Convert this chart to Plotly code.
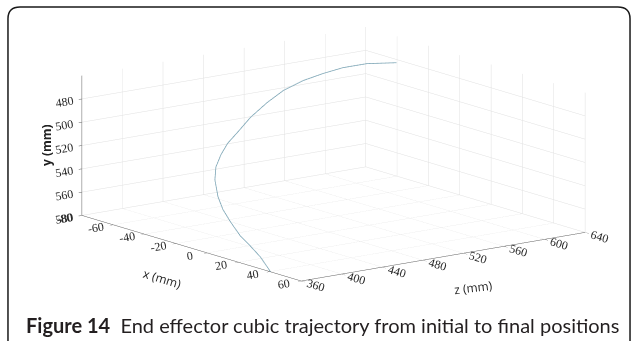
import plotly.graph_objects as go

# Trajectory samples (mm)
x_mm = [40.4, 25.5, 10.6, -4.3, -19.1, -32.7, -44.4, -54.9, -62.8, -68.2,
        -72.3, -74.5, -74.8, -72.6, -71.0, -66.8, -62.7, -58.6, -52.0, -50.0]
y_mm = [580.0, 575.4, 574.0, 573.4, 569.4, 565.7, 561.4, 553.1, 547.2, 541.0,
        534.5, 527.9, 517.2, 505.5, 496.7, 488.4, 482.7, 478.0, 473.9, 476.2]
z_mm = [360.0, 373.2, 386.4, 399.6, 412.8, 426.0, 439.2, 452.4, 465.6, 478.8,
        492.0, 505.2, 518.4, 531.6, 544.8, 558.0, 571.2, 584.4, 597.7, 624.0]

x_ticks = [-80, -60, -40, -20, 0, 20, 40, 60]
z_ticks = [360, 400, 440, 480, 520, 560, 600, 640]
y_ticks = [480, 500, 520, 540, 560, 580]

x_range = [-80, 60]
z_range = [360, 640]
y_range = [460, 580]  # drawn downward: 580 at the bottom

x_title = "x (mm)"
y_title = "y (mm)"
z_title = "z (mm)"

caption_bold = "Figure 14"
caption_text = "End effector cubic trajectory from initial to final positions"

# y grows downward in the reference, so the vertical scene axis shows -y
y_plot = [-v for v in y_mm]

fig = go.Figure()
fig.add_trace(go.Scatter3d(
    x=x_mm, y=z_mm, z=y_plot,
    mode="lines",
    line=dict(color="#7ea6b6", width=1.6),
    hoverinfo="skip",
    showlegend=False,
))

tick_font = dict(family="Liberation Serif", size=12, color="#2a2a2a")
grid_col = "#e0e0e0"
line_col = "#5e5e5e"

def axis(rng, ticks, labels, ticklen):
    return dict(
        title=dict(text=""),
        range=rng,
        tickvals=ticks,
        ticktext=labels,
        tickfont=tick_font,
        showgrid=True, gridcolor=grid_col, gridwidth=1,
        showline=True, linecolor=line_col, linewidth=1,
        ticks="outside", ticklen=ticklen, tickcolor=line_col,
        zeroline=False, showbackground=False, showspikes=False,
        autorange=False,
    )

zoom = 2.36
ex, ey, ez = 0.7767, -0.5879, 0.2262
d = 2.0

title_font = dict(family="Open Sans", size=12, color="#222222")

fig.update_layout(
    width=633, height=341,
    margin=dict(l=0, r=0, t=0, b=0),
    paper_bgcolor="white",
    scene=dict(
        domain=dict(x=[0.054, 1.0], y=[0.096, 1.0]),
        xaxis=axis(x_range, x_ticks, [str(t) for t in x_ticks], 6),
        yaxis=axis(z_range, z_ticks, [str(t) for t in z_ticks], 4),
        zaxis=axis([-y_range[1], -y_range[0]],
                   [-t for t in y_ticks], [str(t) for t in y_ticks], 3),
        aspectmode="manual",
        aspectratio=dict(x=1 * zoom, y=0.9795 * zoom, z=0.395 * zoom),
        camera=dict(
            eye=dict(x=ex * d, y=ey * d, z=ez * d),
            up=dict(x=0, y=0, z=1),
            center=dict(x=0, y=0, z=0),
            projection=dict(type="orthographic"),
        ),
    ),
    annotations=[
        dict(x=162 / 633, y=1 - 278 / 341, xref="paper", yref="paper",
             text=x_title, textangle=17, showarrow=False,
             xanchor="center", yanchor="middle", font=title_font),
        dict(x=473 / 633, y=1 - 287 / 341, xref="paper", yref="paper",
             text=z_title, textangle=-7, showarrow=False,
             xanchor="center", yanchor="middle", font=title_font),
        dict(x=46 / 633, y=1 - 145 / 341, xref="paper", yref="paper",
             text="<b>" + y_title + "</b>", textangle=-90, showarrow=False,
             xanchor="center", yanchor="middle", font=title_font),
        dict(x=24 / 633, y=0.047, xref="paper", yref="paper",
             xanchor="left", yanchor="middle", showarrow=False,
             text="<b>" + caption_bold + "</b>\u00a0\u00a0" + caption_text,
             font=dict(family="Lato", size=20, color="#231f20")),
    ],
    shapes=[dict(
        type="path", xref="paper", yref="paper",
        path="M 0.0126,0 L 0.0126,0.945 Q 0.0126,0.9795 0.0316,0.9795 L 0.976,0.9795 Q 0.9953,0.9795 0.9953,0.945 L 0.9953,0",
        line=dict(color="#1a1a1a", width=1.5),
    )],
)

fig.write_html(
    "out.html",
    config=dict(displayModeBar=False),
    post_script="document.body.style.margin='0';document.body.style.padding='0';document.body.style.overflow='hidden';",
)
